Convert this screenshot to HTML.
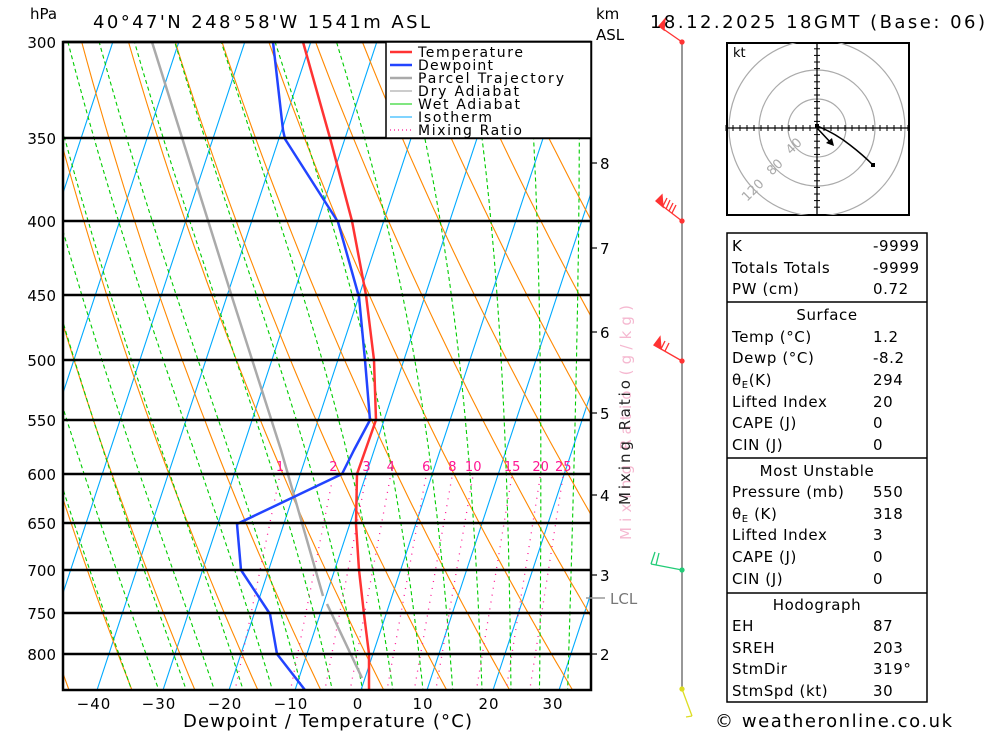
<!DOCTYPE html>
<html><head><meta charset="utf-8"><style>
body{margin:0;background:#fff}
svg{display:block;font-family:"DejaVu Sans","Liberation Sans",sans-serif}
</style></head><body>
<svg id="s" width="1000" height="733" viewBox="0 0 1000 733" xmlns="http://www.w3.org/2000/svg">
<defs><clipPath id="pc"><rect x="63" y="42" width="528" height="648"/></clipPath>
<clipPath id="hc"><rect x="727" y="43" width="182" height="172"/></clipPath></defs>
<rect width="1000" height="733" fill="#fff"/>
<g id="bg" clip-path="url(#pc)"></g>
<g fill="none" stroke-width="2.5" stroke-linejoin="round">
<polyline stroke="#aaaaaa" points="152,42 232,297 281,450 323,596"/>
<polyline stroke="#aaaaaa" points="327,604 362,678"/>
<polyline stroke="#ff3333" points="303,42 330,138 352,221 366,295 374,360 376,420 357,474 356,524 359,570 364,614 369,654 369,690"/>
<polyline stroke="#2244ff" points="273,42 283,130 285,139 338,222 359,297 365,360 370,420 354,450 342,474 237,524 241,570 270,614 277,654 305,690"/>
</g>
<g stroke="#000" stroke-width="2.5">
<line x1="63" y1="42" x2="591" y2="42"/><line x1="63" y1="138" x2="591" y2="138"/><line x1="63" y1="221" x2="591" y2="221"/>
<line x1="63" y1="295" x2="591" y2="295"/><line x1="63" y1="360" x2="591" y2="360"/><line x1="63" y1="420" x2="591" y2="420"/>
<line x1="63" y1="474" x2="591" y2="474"/><line x1="63" y1="523" x2="591" y2="523"/><line x1="63" y1="570" x2="591" y2="570"/>
<line x1="63" y1="613" x2="591" y2="613"/><line x1="63" y1="654" x2="591" y2="654"/>
</g>
<rect x="63" y="42" width="528" height="648" fill="none" stroke="#000" stroke-width="2.5"/>
<!-- legend -->
<rect x="386" y="42" width="205" height="96" fill="#fff" stroke="#000" stroke-width="1.5"/>
<g font-size="14" fill="#000" lengthAdjust="spacingAndGlyphs">
<line x1="390" y1="52" x2="412" y2="52" stroke="#ff3333" stroke-width="2.5"/><text x="418" y="57" textLength="105">Temperature</text>
<line x1="390" y1="65" x2="412" y2="65" stroke="#2244ff" stroke-width="2.5"/><text x="418" y="70" textLength="75">Dewpoint</text>
<line x1="390" y1="78" x2="412" y2="78" stroke="#aaaaaa" stroke-width="2.5"/><text x="418" y="83" textLength="146">Parcel Trajectory</text>
<line x1="390" y1="91" x2="412" y2="91" stroke="#999" stroke-width="1"/><text x="418" y="96" textLength="101">Dry Adiabat</text>
<line x1="390" y1="104" x2="412" y2="104" stroke="#00cc00" stroke-width="1"/><text x="418" y="109" textLength="102">Wet Adiabat</text>
<line x1="390" y1="117" x2="412" y2="117" stroke="#00aaff" stroke-width="1"/><text x="418" y="122" textLength="74">Isotherm</text>
<line x1="390" y1="130" x2="412" y2="130" stroke="#ff1493" stroke-width="1.2" stroke-dasharray="1,3"/><text x="418" y="135" textLength="104">Mixing Ratio</text>
</g>
<!-- axes labels -->
<g font-size="15" fill="#000" text-anchor="end">
<text x="56" y="48">300</text><text x="56" y="144">350</text><text x="56" y="227">400</text><text x="56" y="301">450</text>
<text x="56" y="366">500</text><text x="56" y="426">550</text><text x="56" y="480">600</text><text x="56" y="529">650</text>
<text x="56" y="576">700</text><text x="56" y="619">750</text><text x="56" y="660">800</text>
</g>
<text x="30" y="19" font-size="15">hPa</text>
<text x="93" y="28" font-size="18" textLength="337">40°47'N 248°58'W 1541m ASL</text>
<text x="596" y="19" font-size="15">km</text><text x="596" y="40" font-size="15">ASL</text>
<g font-size="15" fill="#000" text-anchor="middle" letter-spacing="1">
<text x="94" y="709">−40</text><text x="159" y="709">−30</text><text x="225" y="709">−20</text><text x="291" y="709">−10</text>
<text x="358" y="709">0</text><text x="423" y="709">10</text><text x="489" y="709">20</text><text x="553" y="709">30</text>
</g>
<text x="183" y="727" font-size="18" textLength="289">Dewpoint / Temperature (°C)</text>
<g stroke="#000" stroke-width="1.2">
<line x1="591" y1="163" x2="597" y2="163"/><line x1="591" y1="248" x2="597" y2="248"/><line x1="591" y1="332" x2="597" y2="332"/>
<line x1="591" y1="413" x2="597" y2="413"/><line x1="591" y1="495" x2="597" y2="495"/><line x1="591" y1="575" x2="597" y2="575"/><line x1="591" y1="654" x2="597" y2="654"/>
</g>
<g font-size="15"><text x="600" y="169">8</text><text x="600" y="254">7</text><text x="600" y="338">6</text><text x="600" y="419">5</text><text x="600" y="501">4</text><text x="600" y="581">3</text><text x="600" y="660">2</text></g>
<line x1="586" y1="598" x2="605" y2="598" stroke="#999" stroke-width="1.5"/>
<text x="610" y="604" font-size="15" fill="#777">LCL</text>
<text transform="translate(631,305) rotate(-90)" font-size="15" fill="#f5b8d0" text-anchor="end" textLength="235">Mixing Ratio (g/kg)</text>
<text transform="translate(630,505) rotate(-90)" font-size="15" fill="#222" textLength="125">Mixing Ratio</text>
<!-- wind profile -->
<line x1="682" y1="42" x2="682" y2="689" stroke="#777" stroke-width="1.5"/>
<g stroke="#ff3333" stroke-width="1.3" fill="#ff3333">
<line x1="682" y1="42" x2="659" y2="26"/><polygon points="659,26 665,19 664,30"/><circle cx="682" cy="42" r="2"/>
<line x1="682" y1="221" x2="656" y2="201"/><polygon points="656,201 662,195 663,207"/>
<line x1="663" y1="206" x2="667" y2="198"/><line x1="666" y1="209" x2="670" y2="200"/><line x1="669" y1="211" x2="673" y2="203"/><line x1="672" y1="213" x2="676" y2="205"/><circle cx="682" cy="221" r="2"/>
<line x1="682" y1="361" x2="654" y2="345"/><polygon points="654,345 660,337 661,349"/><line x1="661" y1="349" x2="665" y2="341"/><line x1="665" y1="351" x2="669" y2="343"/><circle cx="682" cy="361" r="2"/>
</g>
<g stroke="#22cc77" stroke-width="1.3" fill="#22cc77">
<line x1="682" y1="570" x2="651" y2="564"/><line x1="651" y1="564" x2="655" y2="552"/><line x1="656" y1="565" x2="659" y2="553"/><circle cx="682" cy="570" r="2"/>
</g>
<g stroke="#dddd22" stroke-width="1.3" fill="#dddd22"><line x1="682" y1="689" x2="692" y2="716"/><line x1="692" y1="716" x2="686" y2="717"/><circle cx="682" cy="689" r="2"/></g>
<!-- hodograph -->
<rect x="727" y="43" width="182" height="172" fill="#fff" stroke="#000" stroke-width="2"/>
<g clip-path="url(#hc)" fill="none" stroke="#aaa" stroke-width="1.2">
<circle cx="817" cy="128" r="29"/><circle cx="817" cy="128" r="58"/><circle cx="817" cy="128" r="88"/>
</g>
<g stroke="#000" stroke-width="1.3"><line x1="727" y1="128" x2="909" y2="128"/><line x1="817" y1="43" x2="817" y2="215"/></g>
<g id="hticks" stroke="#000" stroke-width="1"></g>
<text x="733" y="57" font-size="13">kt</text>
<g font-size="13" fill="#aaa">
<text transform="translate(791,155) rotate(-45)">40</text><text transform="translate(772,176) rotate(-45)">80</text><text transform="translate(747,202) rotate(-45)">120</text>
</g>
<path d="M817,126 Q835,133 850,145 Q863,155 873,165" fill="none" stroke="#000" stroke-width="1.5"/>
<rect x="871" y="163" width="4" height="4" fill="#000"/><rect x="815" y="124" width="4" height="4" fill="#000"/>
<line x1="817" y1="128" x2="832" y2="144" stroke="#000" stroke-width="1.5"/><polygon points="826,143 834,146 832,138" fill="#000"/>
<!-- table -->
<g fill="none" stroke="#000" stroke-width="1.5">
<rect x="727" y="233" width="200" height="469"/><line x1="727" y1="302" x2="927" y2="302"/><line x1="727" y1="458" x2="927" y2="458"/><line x1="727" y1="593" x2="927" y2="593"/>
</g>
<g font-size="15" fill="#000" letter-spacing="0.6">
<text x="732" y="251">K</text><text x="873" y="251">-9999</text>
<text x="732" y="273">Totals Totals</text><text x="873" y="273">-9999</text>
<text x="732" y="294">PW (cm)</text><text x="873" y="294">0.72</text>
<text x="827" y="320" text-anchor="middle">Surface</text>
<text x="732" y="342">Temp (°C)</text><text x="873" y="342">1.2</text>
<text x="732" y="363">Dewp (°C)</text><text x="873" y="363">-8.2</text>
<text x="732" y="385">θ<tspan font-size="10" dy="3">E</tspan><tspan dy="-3">(K)</tspan></text><text x="873" y="385">294</text>
<text x="732" y="407">Lifted Index</text><text x="873" y="407">20</text>
<text x="732" y="428">CAPE (J)</text><text x="873" y="428">0</text>
<text x="732" y="450">CIN (J)</text><text x="873" y="450">0</text>
<text x="817" y="476" text-anchor="middle">Most Unstable</text>
<text x="732" y="497">Pressure (mb)</text><text x="873" y="497">550</text>
<text x="732" y="519">θ<tspan font-size="10" dy="3">E</tspan><tspan dy="-3"> (K)</tspan></text><text x="873" y="519">318</text>
<text x="732" y="540">Lifted Index</text><text x="873" y="540">3</text>
<text x="732" y="562">CAPE (J)</text><text x="873" y="562">0</text>
<text x="732" y="584">CIN (J)</text><text x="873" y="584">0</text>
<text x="817" y="610" text-anchor="middle">Hodograph</text>
<text x="732" y="631">EH</text><text x="873" y="631">87</text>
<text x="732" y="653">SREH</text><text x="873" y="653">203</text>
<text x="732" y="674">StmDir</text><text x="873" y="674">319°</text>
<text x="732" y="696">StmSpd (kt)</text><text x="873" y="696">30</text>
</g>
<text x="650" y="28" font-size="18" textLength="335">18.12.2025 18GMT (Base: 06)</text>
<text x="715" y="727" font-size="18" textLength="237">© weatheronline.co.uk</text>
</svg>
<script>
(function(){
var NS="http://www.w3.org/2000/svg",bg=document.getElementById('bg');
function Y(p){return 42+624*Math.log(p/300);}
function X(T,p){return 361+6.6*T+0.33*(690-Y(p));}
function pl(pts,c,w,d){var e=document.createElementNS(NS,'polyline');e.setAttribute('points',pts.map(function(a){return a[0].toFixed(1)+','+a[1].toFixed(1)}).join(' '));e.setAttribute('fill','none');e.setAttribute('stroke',c);e.setAttribute('stroke-width',w);if(d)e.setAttribute('stroke-dasharray',d);bg.appendChild(e);}
var P=[];for(var p=860;p>=290;p-=10)P.push(p);
for(var T=-120;T<=50;T+=10){pl([[X(T,860),Y(860)],[X(T,290),Y(290)]],'#00aaff',1.1);}
for(var th=220;th<=480;th+=10){var a=[];P.forEach(function(p){var Tk=th*Math.pow(p/1000,0.286);a.push([X(Tk-273.15,p),Y(p)]);});pl(a,'#ff8800',1.1);}
function es(T){return 6.112*Math.exp(17.67*T/(T+243.5));}
for(var t0=-24;t0<=40;t0+=4){var Tk=t0+273.15,p=1000,a=[];
 while(p>=290){ if(p<=870)a.push([X(Tk-273.15,p),Y(p)]);
  var rs=0.622*es(Tk-273.15)/(p-es(Tk-273.15));
  var dT=(287*Tk+2.5e6*rs)/(p*(1004+2.5e6*2.5e6*rs*0.622/(287*Tk*Tk)));
  Tk-=dT*5;p-=5;}
 pl(a,'#00cc00',1.1,'4,3');}
var ws=[1,2,3,4,6,8,10,15,20,25];
ws.forEach(function(w){var a=[];[860,600].forEach(function(p){var e=w*p/(622+w),l=Math.log(e/6.112);var Td=243.5*l/(17.67-l);a.push([X(Td,p),Y(p)]);});pl(a,'#ff1493',1.3,'1,6');
 var t=document.createElementNS(NS,'text');t.setAttribute('x',a[1][0].toFixed(1));t.setAttribute('y',471);t.setAttribute('fill','#ff1493');t.setAttribute('font-size','13');t.setAttribute('text-anchor','middle');t.textContent=w;bg.appendChild(t);});
var h=document.getElementById('hticks'),s='';
for(var i=-13;i<=13;i++){if(!i)continue;var x=817+i*7,y=128+i*6.6;s+='<line x1="'+x+'" y1="125" x2="'+x+'" y2="131"/>';if(y>45&&y<213)s+='<line x1="814" y1="'+y+'" x2="820" y2="'+y+'"/>';}
h.innerHTML=s;
})();
</script>
</body></html>
